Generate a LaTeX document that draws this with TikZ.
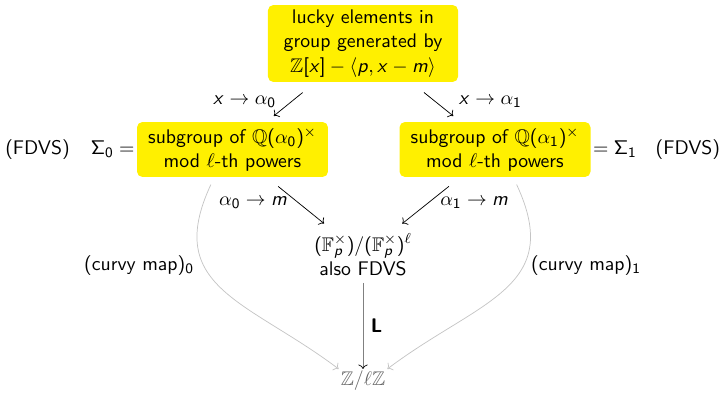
\documentclass[tikz,border=0pt,11pt]{standalone}
\usepackage{amssymb}
\usetikzlibrary{arrows.meta, positioning}
\renewcommand{\familydefault}{\sfdefault}
\DeclareSymbolFont{sfletters}{OT1}{cmss}{m}{sl}
\SetSymbolFont{operators}{normal}{OT1}{cmss}{m}{n}
\DeclareMathSymbol{m}{\mathalpha}{sfletters}{`m}
\DeclareMathSymbol{p}{\mathalpha}{sfletters}{`p}
\DeclareMathSymbol{x}{\mathalpha}{sfletters}{`x}
\definecolor{boxyellow}{HTML}{FFF000}
\definecolor{curvygray}{HTML}{C4C4C4}
\definecolor{lmapgray}{HTML}{808080}
\definecolor{targetgray}{HTML}{666666}

\begin{document}
\begin{tikzpicture}[
        x=0.555pt, y=-0.555pt,
        groupbox/.style={
            fill=boxyellow,
            rounded corners=3pt,
            align=center,
            inner sep=0pt
        },
        mapto/.style={->, shorten <=8pt, shorten >=3pt},
        lmap/.style={-{To[color=black]}, lmapgray},
        curvy/.style={->, curvygray}
    ]
        \useasboundingbox (0,0) rectangle (722,395);

        \node[groupbox, minimum width=105.5pt, minimum height=42.7pt] (lucky) at (363,43.5)
            {lucky elements in\\ group generated by\\ $\mathbb{Z}[x]-\langle p, x-m\rangle$};
        \node[groupbox, minimum width=106pt, minimum height=30.5pt] (sub0) at (232.5,149.5)
            {subgroup of $\mathbb{Q}(\alpha_0)^\times$\\ mod $\ell$-th powers};
        \node[groupbox, minimum width=106pt, minimum height=30.5pt] (sub1) at (495,149.5)
            {subgroup of $\mathbb{Q}(\alpha_1)^\times$\\ mod $\ell$-th powers};
        \node[left=0pt of sub0, inner sep=1pt] (sig0) {$\Sigma_0 =$};
        \node[left=6.7pt of sig0] (fdvs0) {(FDVS)};
        \node[right=0pt of sub1, inner sep=1pt] (sig1) {$= \Sigma_1$};
        \node[right=5.5pt of sig1] (fdvs1) {(FDVS)};
        \node[align=center] (fp) at (363,255)
            {$(\mathbb{F}_p^\times)/(\mathbb{F}_p^\times)^\ell$\\ also FDVS};
        \node[inner sep=1pt, text=targetgray] (zl) at (363,381) {$\mathbb{Z}/\ell\mathbb{Z}$};
        \node (curvy0) at (139,266) {(curvy map)$_0$};
        \node (curvy1) at (586,266) {(curvy map)$_1$};

        \draw[mapto, shorten <=9pt, shorten >=5pt] (lucky) -- node[left=4.5pt] {$x \to \alpha_0$} (sub0);
        \draw[mapto, shorten <=9pt, shorten >=5pt] (lucky) -- node[right=9pt] {$x \to \alpha_1$} (sub1);
        \draw[mapto] (sub0) -- node[left=2pt] {$\alpha_0 \to m$} (fp);
        \draw[mapto] (sub1) -- node[right=2.4pt] {$\alpha_1 \to m$} (fp);
        \draw[lmap] (fp) -- node[right=0.5pt, text=black] {\textbf{L}} (zl);
        \draw[curvy]
            ([xshift=-12pt,yshift=-4pt]sub0.south)
            to[out=245, in=143, looseness=1.3]
            (zl.north west);
        \draw[curvy]
            ([xshift=12pt,yshift=-4pt]sub1.south)
            to[out=-65, in=37, looseness=1.3]
            (zl.north east);
    \end{tikzpicture}
\end{document}
